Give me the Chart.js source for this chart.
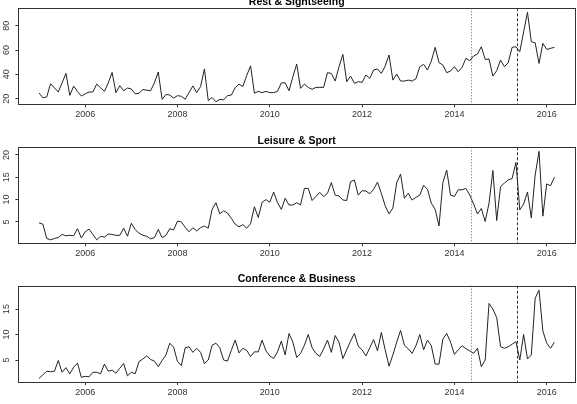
<!DOCTYPE html>
<html lang="en">
<head>
<meta charset="UTF-8">
<title>Tourism series</title>
<script src="https://cdn.jsdelivr.net/npm/chart.js"></script>
<style>
    body { margin: 0; background: #fff; }
    canvas { position: absolute; left: 0; }
</style>
</head>
<body>
<canvas id="rest" width="577" height="134" style="top:0px"></canvas>
<canvas id="leisure" width="577" height="134" style="top:134px"></canvas>
<canvas id="conf" width="577" height="136" style="top:268px"></canvas>

<script>
    // monthly series, Jan 2005 .. Mar 2016
    const startYear = 2005;
    const yearTicks = [2006, 2008, 2010, 2012, 2014, 2016];
    const markerLines = [2014.36, 2015.36];   // dotted, dashed

    const restValues = [
        24.7, 20.8, 21.4, 32.3, 29, 25.5, 33, 40.8, 22.7, 30.4, 25.8, 22.2,
        24, 25.5, 25.5, 32, 29, 26, 33, 41.6, 25, 30.7, 26.6, 28.8,
        28, 24, 24.5, 27.5, 27, 26.5, 33, 42, 19.5, 23.5, 23, 20.5,
        22.5, 22, 19.5, 25, 30.5, 25, 30, 44.5, 18.5, 21, 17.5, 19.5,
        19, 22.5, 23, 29, 32, 30, 39, 47, 24.5, 26, 25, 26,
        25, 25, 26, 33, 33, 26.5, 38, 48.5, 28.5, 32, 29.3, 27.7,
        29.3, 29.3, 29.3, 41.4, 40.8, 34.5, 46.3, 56.4, 34, 38.6, 32.6, 34,
        33.4, 39.5, 36.7, 43.6, 44.4, 40.8, 46.8, 55.9, 35.3, 40.3, 34.5, 34.5,
        35.3, 34.5, 36.4, 46.3, 48.2, 43.6, 51, 62.2, 49.6, 47.7, 41.4, 42.7,
        46.3, 42.2, 45.8, 53.2, 51.2, 55.1, 56.7, 62.7, 52.3, 52.6, 38.6, 43,
        51.8, 46.3, 49.6, 62.2, 62.7, 58.6, 75, 91, 66.8, 66, 49, 65.5,
        60.5, 61.4, 62.2
    ];
    const leisureValues = [
        4.8, 4.5, 1.3, 1.0, 1.3, 1.5, 2.2, 1.9, 2.0, 1.9, 3.5, 1.4,
        2.8, 3.4, 2.2, 1.0, 1.8, 1.6, 2.3, 2.2, 2.0, 2.0, 3.6, 1.8,
        4.7, 3.3, 2.5, 2.0, 1.8, 1.2, 1.5, 3.3, 1.5, 2.0, 3.5, 3.2,
        5.2, 5.0, 3.8, 2.8, 3.7, 3.0, 3.7, 4.1, 3.6, 7.8, 9.3, 6.8,
        7.5, 7.0, 5.8, 4.5, 3.9, 4.4, 3.6, 4.6, 8.4, 6.0, 9.4, 10.0,
        9.4, 11.7, 9.3, 7.8, 10.3, 8.8, 8.8, 9.3, 8.8, 12.5, 12.5, 9.8,
        10.7, 11.6, 10.7, 11.4, 13.8, 11, 10.8, 9.9, 9.8, 14, 14.4, 11,
        12, 11.9, 11.3, 12.3, 13.9, 11.4, 8.6, 6.8, 8.1, 13.8, 15.7, 10.3,
        11.4, 9.9, 10.5, 11, 13.2, 12.3, 9.2, 7.8, 4.1, 13.8, 16.6, 11,
        10.7, 12.2, 12.2, 12.5, 11, 9, 6.8, 8, 5.1, 9.2, 16.5, 5.3,
        12.9, 13.7, 14.4, 14.7, 18.3, 7.7, 9, 11.7, 5.9, 15.5, 20.8, 6.3,
        13.5, 13.1, 15
    ];
    const confValues = [
        1.4, 2.1, 2.8, 2.7, 2.8, 4.9, 2.6, 3.5, 2.3, 3.6, 4.4, 1.6,
        1.8, 1.7, 2.6, 2.6, 2.3, 4.2, 2.8, 3.0, 2.4, 3.4, 4.3, 1.9,
        2.6, 2.3, 4.7, 5.2, 5.8, 5.1, 4.8, 3.7, 4.9, 6.0, 8.3, 7.5,
        4.7, 3.9, 7.4, 7.6, 6.5, 7.3, 6.5, 4.3, 5.0, 7.9, 8.3, 7.4,
        5.0, 4.8, 6.9, 8.9, 6.4, 7.3, 6.9, 5.7, 6.6, 6.6, 8.9, 6.8,
        5.8, 5.3, 6.6, 8.7, 6.0, 10.2, 8.5, 5.5, 6.3, 7.9, 10.0, 7.4,
        6.3, 5.7, 7.2, 8.9, 6.5, 9.8, 8.5, 5.3, 7.0, 8.7, 10.2, 7.7,
        7.0, 5.8, 7.4, 9.0, 6.8, 10.4, 7.0, 3.8, 6.0, 8.5, 10.8, 7.9,
        7.2, 6.3, 7.8, 10.0, 7.0, 8.9, 7.8, 4.2, 4.2, 9.1, 10.2, 8.5,
        6.1, 7.0, 7.8, 7.2, 6.8, 6.3, 7.3, 3.7, 5.0, 16.1, 15.0, 13.3,
        7.6, 7.3, 7.6, 8.1, 8.6, 5.0, 10.0, 5.2, 6.0, 17.1, 18.7, 10.7,
        8.3, 7.3, 8.5
    ];

    const restTicks = [20, 40, 60, 80];
    const leisureTicks = [5, 10, 15, 20];
    const confTicks = [5, 10, 15];

    const font = '"Liberation Sans", Arial, sans-serif';

    // R style box, marker lines, rotated y labels and title
    const rPanel = {
        id: 'rPanel',
        afterDatasetsDraw(chart, args, opts) {
            const ctx = chart.ctx;
            const a = chart.chartArea;
            const xs = chart.scales.x, ys = chart.scales.y;
            ctx.save();
            ctx.lineWidth = 1;
            markerLines.forEach((v, i) => {
                const px = Math.round(xs.getPixelForValue(v)) + 0.5;
                ctx.strokeStyle = i == 0 ? '#666' : '#333';
                ctx.setLineDash(i == 0 ? [1, 2] : [3, 2]);
                ctx.beginPath();
                ctx.moveTo(px, a.top);
                ctx.lineTo(px, a.bottom);
                ctx.stroke();
            });
            ctx.setLineDash([]);
            ctx.strokeStyle = '#333';
            ctx.strokeRect(Math.round(a.left) + 0.5, Math.round(a.top) + 0.5,
                Math.round(a.right - a.left), Math.round(a.bottom - a.top));

            ctx.fillStyle = '#333';
            ctx.font = '9px ' + font;
            ctx.textAlign = 'center';
            ctx.textBaseline = 'middle';
            opts.ticks.forEach(v => {
                ctx.save();
                ctx.translate(6.5, ys.getPixelForValue(v));
                ctx.rotate(-Math.PI / 2);
                ctx.fillText(String(v), 0, 0);
                ctx.restore();
            });

            ctx.fillStyle = '#000';
            ctx.font = 'bold 10.5px ' + font;
            ctx.textBaseline = 'alphabetic';
            ctx.fillText(opts.title, (a.left + a.right) / 2, a.top - 3.3);
            ctx.restore();
        }
    };

    function makePanel(id, title, values, ticks, yMin, yMax, areaTop, areaBottom) {
        const canvas = document.getElementById(id);
        const h = canvas.height;
        const points = values.map((v, i) => ({ x: startYear + i / 12, y: v }));
        return new Chart(canvas, {
            type: 'line',
            data: {
                datasets: [{
                    data: points,
                    borderColor: '#222',
                    borderWidth: 1,
                    pointRadius: 0,
                    tension: 0,
                    fill: false
                }]
            },
            options: {
                responsive: false,
                animation: false,
                layout: { padding: { top: areaTop, right: 2, bottom: 0, left: 0 } },
                plugins: {
                    legend: { display: false },
                    tooltip: { enabled: false },
                    rPanel: { title: title, ticks: ticks }
                },
                scales: {
                    x: {
                        type: 'linear',
                        min: 2004.553,
                        max: 2016.613,
                        afterBuildTicks: s => { s.ticks = yearTicks.map(v => ({ value: v })); },
                        afterFit: s => { s.height = h - areaBottom; },
                        ticks: {
                            callback: v => String(v),
                            maxRotation: 0,
                            padding: 2,
                            color: '#333',
                            font: { size: 9, family: font }
                        },
                        grid: { drawOnChartArea: false, drawTicks: true, tickLength: 3, color: '#333' },
                        border: { display: false }
                    },
                    y: {
                        min: yMin,
                        max: yMax,
                        afterBuildTicks: s => { s.ticks = ticks.map(v => ({ value: v })); },
                        afterFit: s => { s.width = 18.4; },
                        ticks: { display: false },
                        grid: { drawOnChartArea: false, drawTicks: true, tickLength: 3, color: '#333' },
                        border: { display: false }
                    }
                }
            },
            plugins: [rPanel]
        });
    }

    makePanel('rest', 'Rest & Sightseeing', restValues, restTicks, 15.4, 94.3, 8.3, 104.3);
    makePanel('leisure', 'Leisure & Sport', leisureValues, leisureTicks, 0.22, 21.7, 13.3, 109.3);
    makePanel('conf', 'Conference & Business', confValues, confTicks, 0.69, 19.57, 17.7, 114);
</script>
</body>
</html>
